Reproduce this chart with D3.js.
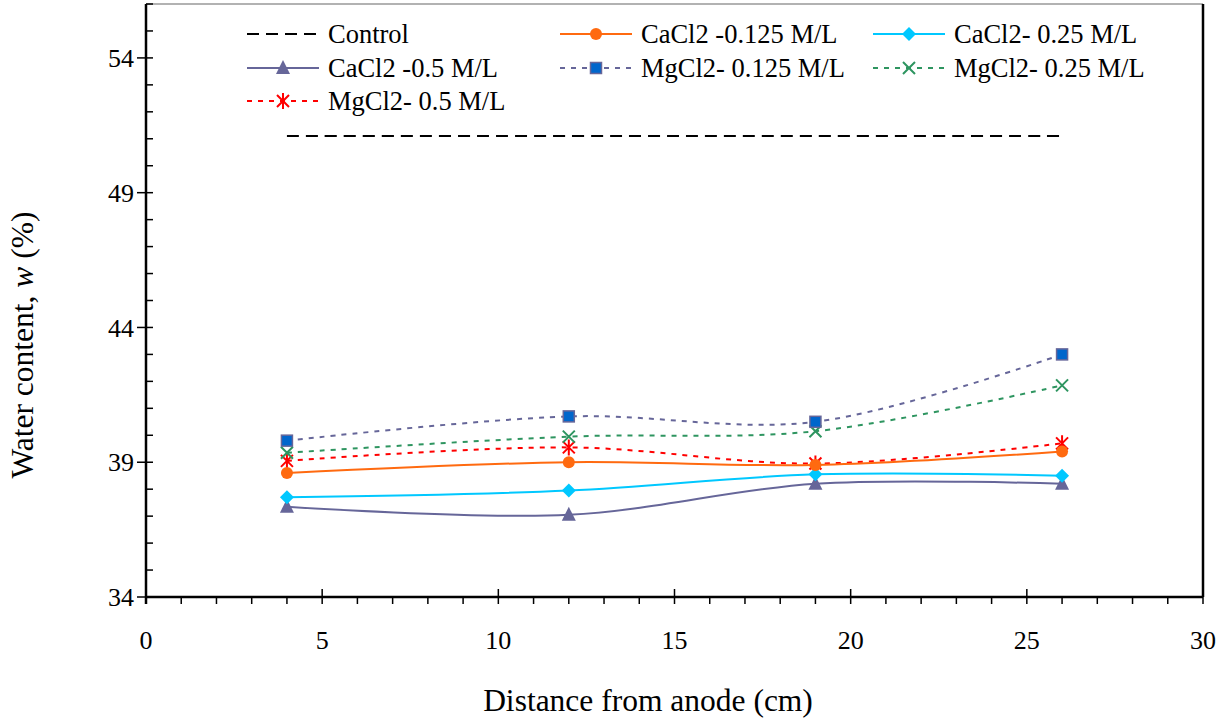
<!DOCTYPE html>
<html lang="en">
<head>
<meta charset="UTF-8">
<title>Water content</title>
<style>
    body { margin: 0; background: #fff; }
    text { font-family: "Liberation Serif", "Times New Roman", serif; fill: #000; }
</style>
</head>
<body>
<svg id="chart" width="1225" height="721"></svg>
<script src="https://d3js.org/d3.v7.min.js"></script>
<script>
    // data
    const distance = [4, 12, 19, 26];
    const control = [51.1, 51.1, 51.1, 51.1];
    const cacl2_0125 = [38.6, 39.0, 38.9, 39.4];
    const cacl2_025 = [37.7, 37.95, 38.55, 38.5];
    const cacl2_05 = [37.35, 37.05, 38.2, 38.2];
    const mgcl2_0125 = [39.8, 40.7, 40.5, 43.0];
    const mgcl2_025 = [39.35, 39.95, 40.15, 41.85];
    const mgcl2_05 = [39.05, 39.55, 38.95, 39.7];

    const xTicks = [0, 5, 10, 15, 20, 25, 30];
    const yTicks = [34, 39, 44, 49, 54];

    const series = [
        {name: "Control", values: control, color: "#000", dash: "12,7", width: 2, marker: null},
        {name: "CaCl2 -0.125 M/L", values: cacl2_0125, color: "#FF6A10", dash: null, width: 2, marker: "circle"},
        {name: "CaCl2- 0.25 M/L", values: cacl2_025, color: "#00C8FF", dash: null, width: 2, marker: "diamond"},
        {name: "CaCl2 -0.5 M/L", values: cacl2_05, color: "#666699", dash: null, width: 2, marker: "triangle"},
        {name: "MgCl2- 0.125 M/L", values: mgcl2_0125, color: "#666699", dash: "5,6", width: 2, marker: "square"},
        {name: "MgCl2- 0.25 M/L", values: mgcl2_025, color: "#2E9560", dash: "5,6", width: 2, marker: "cross"},
        {name: "MgCl2- 0.5 M/L", values: mgcl2_05, color: "#FF0000", dash: "5,6", width: 2, marker: "star"}
    ];

    const svg = d3.select("#chart");
    const plotL = 146, plotR = 1203, plotT = 4, plotB = 597;

    const x = d3.scaleLinear().domain([0, 30]).range([plotL, plotR]);
    const y = d3.scaleLinear().domain([34, 56]).range([plotB, plotT]);

    // frame
    svg.append("line").attr("x1", plotL).attr("x2", plotR).attr("y1", plotT).attr("y2", plotT)
        .attr("stroke", "#999").attr("stroke-width", 1.5);
    svg.append("line").attr("x1", plotR).attr("x2", plotR).attr("y1", plotT).attr("y2", plotB)
        .attr("stroke", "#000").attr("stroke-width", 2.5);

    // x axis
    const gx = svg.append("g").attr("transform", "translate(0," + plotB + ")");
    gx.append("line").attr("x1", plotL).attr("x2", plotR).attr("stroke", "#000").attr("stroke-width", 2.5);
    gx.selectAll(".minor").data(d3.range(0, 31)).enter().append("line")
        .attr("x1", d => x(d)).attr("x2", d => x(d))
        .attr("y1", d => d % 5 === 0 ? -8 : 0).attr("y2", 7)
        .attr("stroke", "#000").attr("stroke-width", 1.5);
    gx.selectAll(".lab").data(xTicks).enter().append("text")
        .attr("x", d => x(d)).attr("y", 52)
        .attr("text-anchor", "middle").style("font-size", "26px")
        .text(d => d);

    // y axis
    const gy = svg.append("g").attr("transform", "translate(" + plotL + ",0)");
    gy.append("line").attr("y1", plotT).attr("y2", plotB + 7).attr("stroke", "#000").attr("stroke-width", 2.5);
    gy.selectAll(".minor").data(d3.range(34, 57)).enter().append("line")
        .attr("y1", d => y(d)).attr("y2", d => y(d))
        .attr("x1", d => (d - 34) % 5 === 0 ? -9 : 0).attr("x2", 7)
        .attr("stroke", "#000").attr("stroke-width", 1.5);
    gy.selectAll(".lab").data(yTicks).enter().append("text")
        .attr("x", -12).attr("y", d => y(d)).attr("dy", "0.35em")
        .attr("text-anchor", "end").style("font-size", "26px")
        .text(d => d);

    // axis titles
    svg.append("text").attr("x", 648).attr("y", 711).attr("text-anchor", "middle")
        .style("font-size", "31.5px").text("Distance from anode (cm)");
    const yt = svg.append("text").attr("transform", "translate(33,345) rotate(-90)")
        .attr("text-anchor", "middle").style("font-size", "31.5px");
    yt.append("tspan").text("Water content, ");
    yt.append("tspan").style("font-style", "italic").text("w");
    yt.append("tspan").text(" (%)");

    function drawMarker(g, type, color, cx, cy) {
        if (type === "circle") {
            g.append("circle").attr("cx", cx).attr("cy", cy).attr("r", 6).attr("fill", color);
        } else if (type === "diamond") {
            g.append("path").attr("d", `M${cx},${cy - 7}L${cx + 7},${cy}L${cx},${cy + 7}L${cx - 7},${cy}Z`).attr("fill", color);
        } else if (type === "triangle") {
            g.append("path").attr("d", `M${cx},${cy - 8}L${cx + 7},${cy + 6}L${cx - 7},${cy + 6}Z`).attr("fill", color);
        } else if (type === "square") {
            g.append("rect").attr("x", cx - 5.5).attr("y", cy - 5.5).attr("width", 11).attr("height", 11)
                .attr("fill", "#0066CC").attr("stroke", "#666699").attr("stroke-width", 1.5);
        } else if (type === "cross") {
            g.append("path").attr("d", `M${cx - 6},${cy - 6}L${cx + 6},${cy + 6}M${cx - 6},${cy + 6}L${cx + 6},${cy - 6}`)
                .attr("stroke", color).attr("stroke-width", 2);
        } else if (type === "star") {
            g.append("path").attr("d", `M${cx - 6},${cy - 6}L${cx + 6},${cy + 6}M${cx - 6},${cy + 6}L${cx + 6},${cy - 6}M${cx},${cy - 8}L${cx},${cy + 8}`)
                .attr("stroke", color).attr("stroke-width", 2);
        }
    }

    const line = d3.line()
        .x((d, i) => x(distance[i]))
        .y(d => y(d))
        .curve(d3.curveCatmullRom.alpha(0.5));

    const plot = svg.append("g");
    // draw in reverse so the first series sits on top
    series.slice().reverse().forEach(s => {
        const g = plot.append("g");
        g.append("path").attr("d", line(s.values))
            .attr("fill", "none").attr("stroke", s.color)
            .attr("stroke-width", s.width)
            .attr("stroke-dasharray", s.dash);
        if (s.marker) {
            s.values.forEach((v, i) => drawMarker(g, s.marker, s.color, x(distance[i]), y(v)));
        }
    });

    // legend
    const legCols = [247, 560, 873];
    const legRows = [34, 68, 101];
    const legend = svg.append("g");
    series.forEach((s, i) => {
        const lx = legCols[i % 3], ly = legRows[Math.floor(i / 3)];
        const g = legend.append("g");
        g.append("line").attr("x1", lx).attr("x2", lx + 72).attr("y1", ly).attr("y2", ly)
            .attr("stroke", s.color).attr("stroke-width", s.width)
            .attr("stroke-dasharray", s.dash);
        if (s.marker) drawMarker(g, s.marker, s.color, lx + 36, ly);
        g.append("text").attr("x", lx + 81).attr("y", ly + 9)
            .style("font-size", "26.5px").text(s.name);
    });
</script>
</body>
</html>
